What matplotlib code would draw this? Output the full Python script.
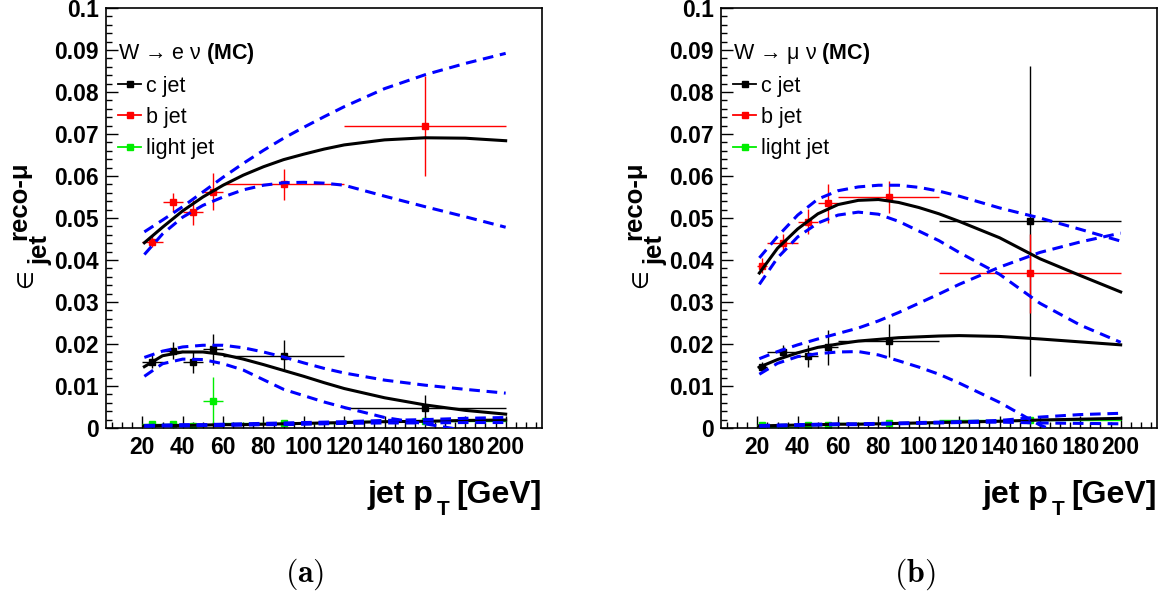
import numpy as np
import matplotlib
matplotlib.use('Agg')
import matplotlib.pyplot as plt
from matplotlib.lines import Line2D
from matplotlib.ticker import MultipleLocator

plt.rcParams['font.family'] = ['Liberation Sans', 'DejaVu Sans']
plt.rcParams['mathtext.fontset'] = 'custom'
plt.rcParams['mathtext.rm'] = 'Liberation Sans'
plt.rcParams['mathtext.it'] = 'Liberation Sans:italic'
plt.rcParams['mathtext.bf'] = 'Liberation Sans:bold'

# pT bin edges of the measured points
bins_e = [20, 30, 40, 50, 60, 120, 200]
bins_mu = [20, 25, 40, 50, 60, 110, 200]

# W -> e nu : efficiencies and errors
c_e = [0.0158, 0.0184, 0.0156, 0.0187, 0.0172, 0.0047]
c_e_err = [0.0015, 0.0020, 0.0024, 0.0037, 0.0037, 0.0031]
b_e = [0.0443, 0.0537, 0.0514, 0.0563, 0.0580, 0.0719]
b_e_err = [0.0013, 0.0022, 0.0030, 0.0044, 0.0036, 0.0120]
l_e = [0.0009, 0.0010, 0.0005, 0.0064, 0.0013, 0.0017]
l_e_err = [0.0003, 0.0004, 0.0005, 0.0058, 0.0004, 0.0006]

# W -> mu nu
c_mu = [0.0146, 0.0182, 0.0172, 0.0192, 0.0208, 0.0493]
c_mu_err = [0.0011, 0.0015, 0.0026, 0.0042, 0.0039, 0.0368]
b_mu = [0.0386, 0.0441, 0.0491, 0.0535, 0.0549, 0.0368]
b_mu_err = [0.0018, 0.0022, 0.0030, 0.0047, 0.0038, 0.0095]
l_mu = [0.0006, 0.0003, 0.0007, 0.0007, 0.0012, 0.0018]
l_mu_err = [0.0003, 0.0003, 0.0004, 0.0005, 0.0004, 0.0006]

# fit curves (central, upper, lower band) read at these pT values
fit_x = [21, 30, 40, 50, 60, 70, 80, 90, 100, 110, 120, 140, 160, 180, 200]

fit_b_e = [0.0441, 0.0478, 0.0517, 0.0550, 0.0578, 0.0602, 0.0622, 0.0639, 0.0652, 0.0664, 0.0674, 0.0686, 0.0691, 0.0690, 0.0684]
up_b_e = [0.0467, 0.0495, 0.0527, 0.0562, 0.0597, 0.0630, 0.0661, 0.0690, 0.0716, 0.0741, 0.0765, 0.0808, 0.0841, 0.0868, 0.0892]
lo_b_e = [0.0413, 0.0462, 0.0502, 0.0530, 0.0550, 0.0567, 0.0578, 0.0584, 0.0585, 0.0583, 0.0578, 0.0552, 0.0527, 0.0503, 0.0478]

fit_c_e = [0.0146, 0.0172, 0.0181, 0.0181, 0.0175, 0.0164, 0.0151, 0.0137, 0.0123, 0.0108, 0.0094, 0.0072, 0.0055, 0.0042, 0.0033]
up_c_e = [0.0168, 0.0183, 0.0193, 0.0197, 0.0197, 0.0191, 0.0181, 0.0169, 0.0155, 0.0142, 0.0131, 0.0114, 0.0102, 0.0092, 0.0083]
lo_c_e = [0.0123, 0.0153, 0.0164, 0.0163, 0.0153, 0.0138, 0.0115, 0.0092, 0.0077, 0.0062, 0.0049, 0.0025, 0.0010, -0.0006, -0.0020]

fit_l_e = [0.0005, 0.0006, 0.0006, 0.0007, 0.0008, 0.0008, 0.0009, 0.0010, 0.0011, 0.0012, 0.0013, 0.0015, 0.0016, 0.0018, 0.0019]
up_l_e = [0.0006, 0.0007, 0.0008, 0.0008, 0.0009, 0.0010, 0.0011, 0.0012, 0.0013, 0.0014, 0.0015, 0.0018, 0.0020, 0.0023, 0.0025]
lo_l_e = [0.0004, 0.0005, 0.0005, 0.0006, 0.0006, 0.0007, 0.0008, 0.0008, 0.0009, 0.0010, 0.0011, 0.0012, 0.0012, 0.0013, 0.0013]

fit_b_mu = [0.0369, 0.0428, 0.0474, 0.0510, 0.0532, 0.0542, 0.0544, 0.0537, 0.0525, 0.0510, 0.0492, 0.0453, 0.0403, 0.0363, 0.0324]
up_b_mu = [0.0405, 0.0456, 0.0507, 0.0545, 0.0565, 0.0574, 0.0578, 0.0578, 0.0573, 0.0564, 0.0552, 0.0524, 0.0500, 0.0473, 0.0445]
lo_b_mu = [0.0342, 0.0405, 0.0455, 0.0488, 0.0507, 0.0514, 0.0509, 0.0492, 0.0469, 0.0446, 0.0418, 0.0366, 0.0297, 0.0245, 0.0204]

fit_c_mu = [0.0145, 0.0163, 0.0179, 0.0192, 0.0200, 0.0207, 0.0211, 0.0215, 0.0217, 0.0219, 0.0220, 0.0218, 0.0212, 0.0205, 0.0198]
up_c_mu = [0.0165, 0.0182, 0.0198, 0.0212, 0.0225, 0.0238, 0.0255, 0.0275, 0.0297, 0.0319, 0.0342, 0.0383, 0.0418, 0.0443, 0.0464]
lo_c_mu = [0.0128, 0.0154, 0.0170, 0.0177, 0.0181, 0.0182, 0.0174, 0.0160, 0.0145, 0.0128, 0.0107, 0.0061, 0.0007, -0.0030, -0.0060]

fit_l_mu = [0.0005, 0.0006, 0.0007, 0.0008, 0.0009, 0.0009, 0.0010, 0.0011, 0.0012, 0.0013, 0.0014, 0.0016, 0.0019, 0.0021, 0.0023]
up_l_mu = [0.0006, 0.0007, 0.0008, 0.0009, 0.0010, 0.0010, 0.0011, 0.0012, 0.0013, 0.0014, 0.0015, 0.0018, 0.0026, 0.0032, 0.0035]
lo_l_mu = [0.0004, 0.0005, 0.0006, 0.0007, 0.0008, 0.0008, 0.0009, 0.0010, 0.0011, 0.0012, 0.0013, 0.0014, 0.0012, 0.0011, 0.0010]

x_ticks = [20, 40, 60, 80, 100, 120, 140, 160, 180, 200]
y_ticks = [0, 0.01, 0.02, 0.03, 0.04, 0.05, 0.06, 0.07, 0.08, 0.09, 0.1]
y_labels = ['0', '0.01', '0.02', '0.03', '0.04', '0.05', '0.06', '0.07', '0.08', '0.09', '0.1']
legend_labels = ['c jet', 'b jet', 'light jet']
colors = ['black', '#ff0000', '#00ee00']


def draw_panel(ax, edges, points, fits, title, caption, cap_x):
    edges = np.array(edges, dtype=float)
    xc = (edges[:-1] + edges[1:]) / 2
    xerr = [xc - edges[:-1], edges[1:] - xc]

    for (y, err), col in zip(points, colors):
        ax.errorbar(xc, y, yerr=err, xerr=xerr, fmt='s', color=col, ms=4,
                    elinewidth=1, capsize=0, zorder=2)

    for mid, up, lo in fits:
        ax.plot(fit_x, mid, color='black', lw=2.2, zorder=3)
        ax.plot(fit_x, up, color='#0000ff', lw=2.2, dashes=(3.5, 2.2), zorder=4)
        ax.plot(fit_x, lo, color='#0000ff', lw=2.2, dashes=(3.5, 2.2), zorder=4)

    ax.set_xlim(2, 218)
    ax.set_ylim(0, 0.1)
    ax.set_xticks(x_ticks, [str(v) for v in x_ticks], fontweight='bold', fontsize=16.5)
    ax.set_yticks(y_ticks, y_labels, fontweight='bold', fontsize=16.5)
    ax.xaxis.set_minor_locator(MultipleLocator(5))
    ax.yaxis.set_minor_locator(MultipleLocator(0.002))
    ax.tick_params(which='both', direction='in', top=False, right=False, width=1)
    ax.tick_params(which='major', length=8.5)
    ax.tick_params(which='minor', length=4.3)
    ax.tick_params(axis='x', pad=6)
    ax.tick_params(axis='y', pad=5)
    for s in ax.spines.values():
        s.set_linewidth(1.2)

    # x title: jet p_T [GeV] with a low-set subscript
    tr = ax.transAxes
    ax.text(0.75, -0.179, 'jet p', transform=tr, ha='right', va='baseline',
            fontsize=23, fontweight='bold')
    ax.text(0.759, -0.207, 'T', transform=tr, ha='left', va='baseline',
            fontsize=15, fontweight='bold')
    ax.text(1.0, -0.179, '[GeV]', transform=tr, ha='right', va='baseline',
            fontsize=23, fontweight='bold')

    # y title: epsilon with reco-mu superscript and jet subscript
    ax.text(-0.183, 0.334, '\u2208', transform=tr, rotation=90, ha='center',
            va='bottom', fontsize=15.5, family='DejaVu Sans')
    ax.text(-0.199, 0.448, 'reco-\u03bc', transform=tr, rotation=90,
            ha='center', va='bottom', fontsize=18.5, fontweight='bold')
    ax.text(-0.151, 0.388, 'jet', transform=tr, rotation=90, ha='center',
            va='bottom', fontsize=18.5, fontweight='bold')

    handles = [Line2D([], [], color=c, marker='s', ms=4, lw=1.3) for c in colors]
    ax.legend(handles, legend_labels, title=title, loc='upper left',
              bbox_to_anchor=(0.028, 0.922), frameon=False, fontsize=15.5,
              title_fontsize=15.5, alignment='left', handlelength=1.05,
              handletextpad=0.22, labelspacing=0.47, borderpad=0,
              borderaxespad=0)

    fig.text(cap_x, 1 - 574 / 596, caption, math_fontfamily='cm',
             fontsize=23, ha='center', va='center')


fig = plt.figure(figsize=(11.63, 5.96), dpi=100)
ax1 = fig.add_axes([106 / 1163, 168 / 596, 436 / 1163, 420 / 596])
ax2 = fig.add_axes([721 / 1163, 168 / 596, 436 / 1163, 420 / 596])

draw_panel(ax1, bins_e,
           [(c_e, c_e_err), (b_e, b_e_err), (l_e, l_e_err)],
           [(fit_c_e, up_c_e, lo_c_e), (fit_b_e, up_b_e, lo_b_e), (fit_l_e, up_l_e, lo_l_e)],
           'W \u2192 e \u03bd $\\mathbf{(MC)}$', r'$\mathbf{(a)}$', 305 / 1163)
draw_panel(ax2, bins_mu,
           [(c_mu, c_mu_err), (b_mu, b_mu_err), (l_mu, l_mu_err)],
           [(fit_c_mu, up_c_mu, lo_c_mu), (fit_b_mu, up_b_mu, lo_b_mu), (fit_l_mu, up_l_mu, lo_l_mu)],
           'W \u2192 \u03bc \u03bd $\\mathbf{(MC)}$', r'$\mathbf{(b)}$', 915 / 1163)

fig.savefig('out.png', dpi=100)
